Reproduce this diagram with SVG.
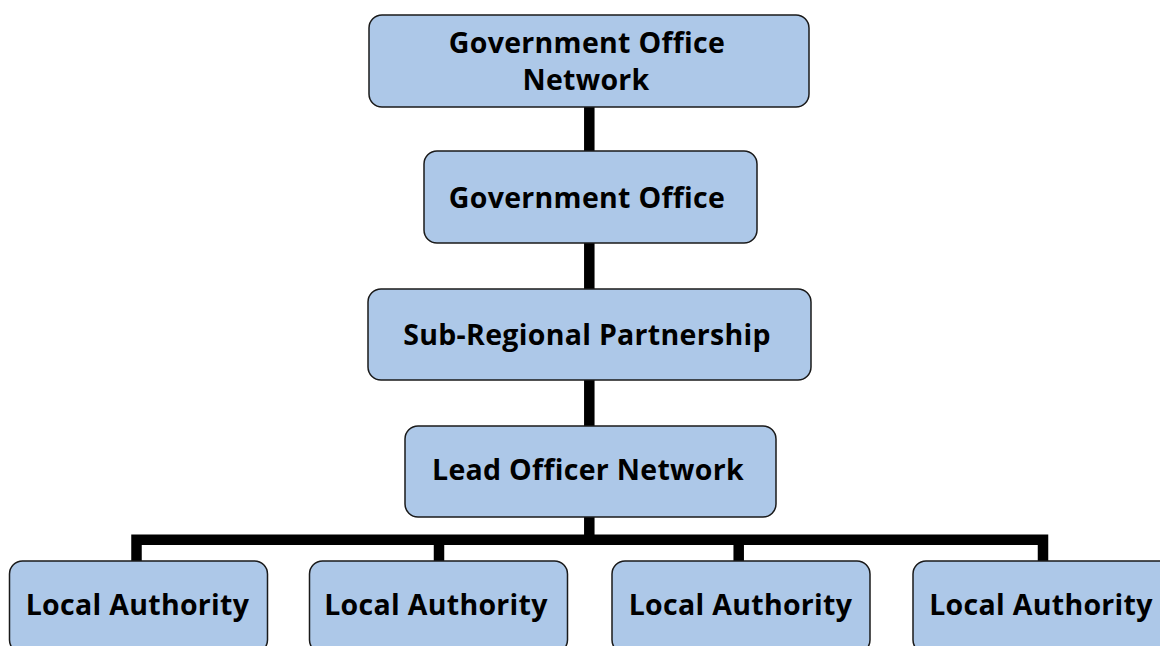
<svg xmlns="http://www.w3.org/2000/svg" width="1160" height="646" viewBox="0 0 1160 646">
<style>
.box{fill:#ADC8E8;stroke:#1a1a1a;stroke-width:1.5}
.lbl{font-family:"Open Sans","Noto Sans","DejaVu Sans",sans-serif;font-weight:bold;font-size:28.5px;letter-spacing:0.3px;fill:#000;text-anchor:middle}
.con{stroke:#000;stroke-width:10.5;fill:none;stroke-linecap:butt}
</style>
<rect width="1160" height="646" fill="#fff"/>
<g id="connectors">
<line class="con" x1="589.3" y1="107" x2="589.3" y2="151"/>
<line class="con" x1="589.3" y1="243" x2="589.3" y2="289"/>
<line class="con" x1="589.3" y1="380" x2="589.3" y2="426"/>
<line class="con" x1="589.3" y1="517" x2="589.3" y2="540"/>
<polyline class="con" points="136.5,561 136.5,539.7 1043,539.7 1043,561"/>
<line class="con" x1="439" y1="539.7" x2="439" y2="561"/>
<line class="con" x1="738.7" y1="539.7" x2="738.7" y2="561"/>
</g>
<g id="n1"><rect class="box" x="369" y="15" width="440" height="92" rx="13"/><text class="lbl" x="587" y="52.5">Government Office</text><text class="lbl" x="586" y="89.5">Network</text></g>
<g id="n2"><rect class="box" x="424" y="151" width="333" height="92" rx="13"/><text class="lbl" x="587" y="208">Government Office</text></g>
<g id="n3"><rect class="box" x="368" y="289" width="443" height="91" rx="13"/><text class="lbl" x="587" y="345">Sub-Regional Partnership</text></g>
<g id="n4"><rect class="box" x="405" y="426" width="371" height="91" rx="13"/><text class="lbl" x="588" y="480">Lead Officer Network</text></g>
<g id="la1"><rect class="box" x="9.5" y="561" width="258" height="92" rx="13"/><text class="lbl" x="137.5" y="614.5">Local Authority</text></g>
<g id="la2"><rect class="box" x="309.5" y="561" width="258" height="92" rx="13"/><text class="lbl" x="436" y="614.5">Local Authority</text></g>
<g id="la3"><rect class="box" x="612" y="561" width="258" height="92" rx="13"/><text class="lbl" x="740.5" y="614.5">Local Authority</text></g>
<g id="la4"><rect class="box" x="913" y="561" width="260" height="92" rx="13"/><text class="lbl" x="1041" y="614.5">Local Authority</text></g>
</svg>
